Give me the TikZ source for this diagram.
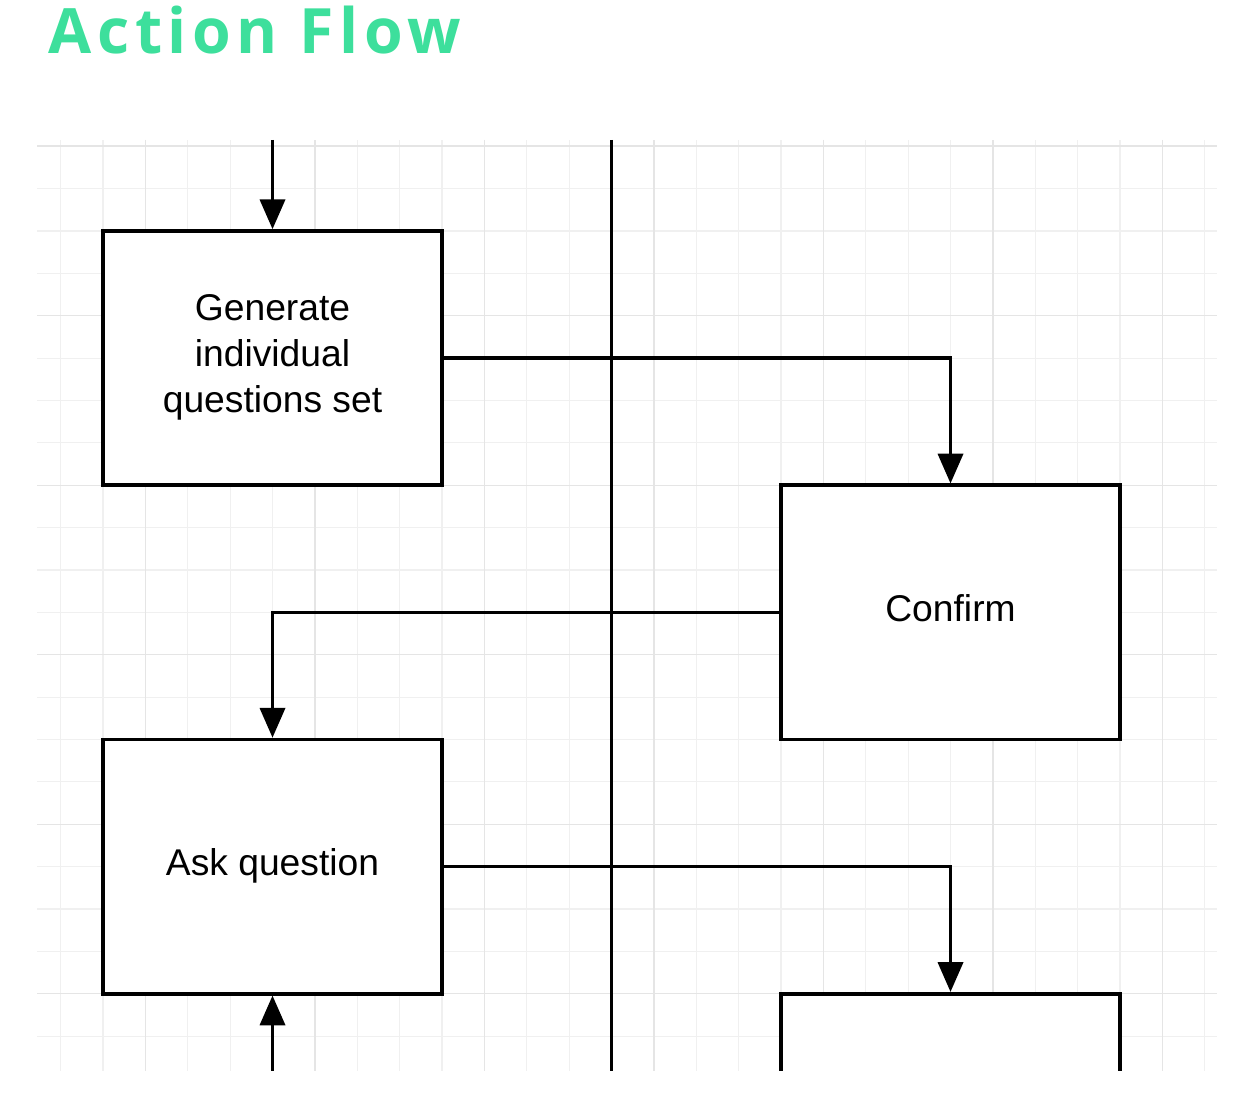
\documentclass[tikz,border=0pt]{standalone}
\usepackage{fontspec}
\setmainfont{Liberation Sans}
\newfontfamily\titulofont[LetterSpace=9]{Open Sans}
\usetikzlibrary{arrows.meta}

\definecolor{tituloVerde}{HTML}{3DDF9C}
\definecolor{gradeFina}{HTML}{F0F0F0}
\definecolor{gradeGrossa}{HTML}{E5E5E5}

\tikzset{
    caixa/.style={draw, line width=1.2pt, fill=white, minimum width=4cm,
        minimum height=3cm, align=center, text depth=3.2pt,
        font=\fontsize{12.5}{15.4}\selectfont},
    seta/.style={line width=1.2pt, -{Triangle[width=8.4pt,length=10pt]}},
}

\begin{document}
\begin{tikzpicture}[x=0.5cm, y=0.5cm]
        \useasboundingbox (-2.431,5.451) rectangle (27.115,-20.696);

        % Titulo.
        \node[anchor=base west, inner sep=0pt, text=tituloVerde,
            font=\titulofont\bfseries\fontsize{21}{25}\selectfont]
            (titulo) at (-1.3,4.2) {Action Flow};

        \begin{scope}
        \clip (-2.431,2.15) rectangle (27.115,-19.82);

        % Grade de fundo.
        \foreach \x in {-1,...,26}
            \draw[gradeFina, line width=0.4pt] (\x,2.15) -- (\x,-19.82);
        \foreach \y in {2,...,-19}
            \draw[gradeFina, line width=0.4pt] (-1.55,\y) -- (26.29,\y);
        \foreach \x in {1,5,...,25}
            \draw[gradeGrossa, line width=0.5pt] (\x,2.15) -- (\x,-19.82);
        \foreach \y in {2,-2,...,-18}
            \draw[gradeGrossa, line width=0.5pt] (-1.55,\y) -- (26.29,\y);

        % Divisoria entre as colunas.
        \draw[line width=1.2pt] (12,2.15) -- (12,-19.82);

        % Caixas.
        \node[caixa] (gerar) at (4,-3) {Generate\\individual\\questions set};
        \node[caixa] (confirmar) at (20,-9) {Confirm};
        \node[caixa] (perguntar) at (4,-15) {Ask question};
        \node[caixa] (proxima) at (20,-21) {};

        % Entradas e saidas cortadas.
        \coordinate (entradaA) at (4,2.15);
        \coordinate (entradaB) at (4,-19.82);

        % Ligacoes.
        \draw[seta] (entradaA) -- (gerar.north);
        \draw[seta] (gerar.east) -| (confirmar.north);
        \draw[seta] (confirmar.west) -| (perguntar.north);
        \draw[seta] (perguntar.east) -| (proxima.north);
        \draw[seta] (entradaB) -- (perguntar.south);
        \end{scope}
    \end{tikzpicture}
\end{document}
